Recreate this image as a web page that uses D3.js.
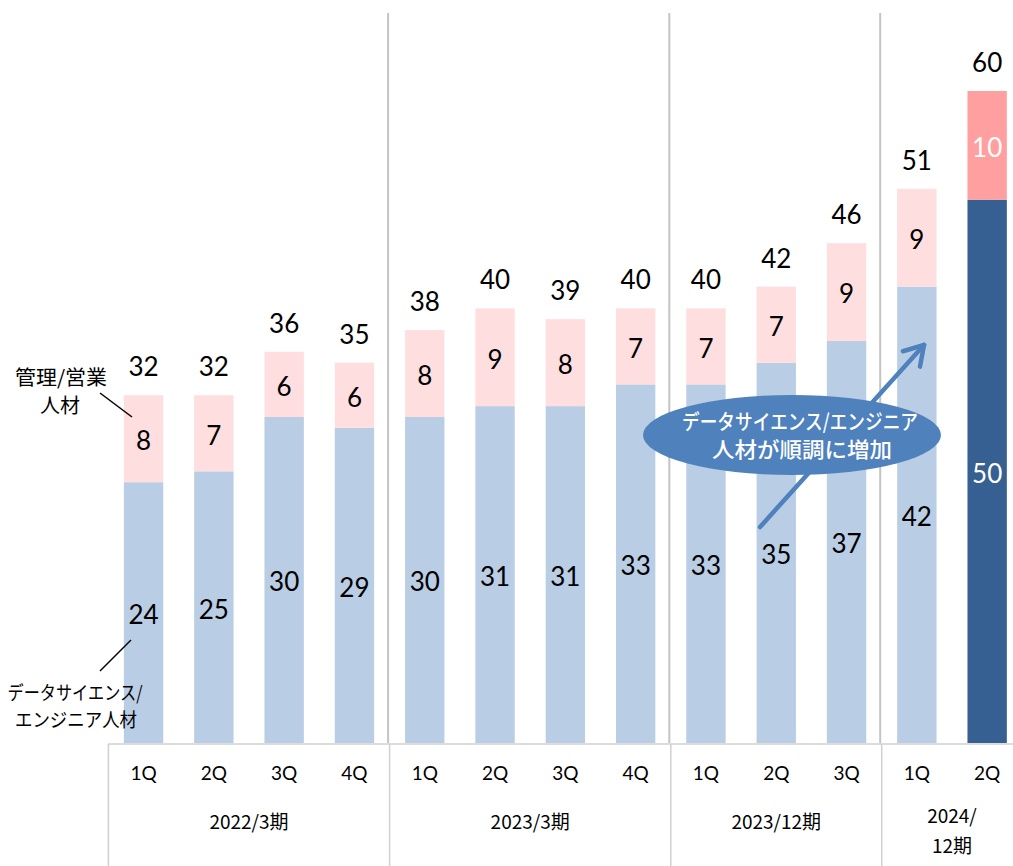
<!DOCTYPE html>
<html>
<head>
<meta charset="utf-8">
<script src="https://cdn.jsdelivr.net/npm/d3@7"></script>
<style>
  body { margin: 0; background: #fff; }
  text { font-family: Lato, "Noto Sans CJK JP", sans-serif; }
  .jp { font-family: "Noto Sans CJK JP", sans-serif; }
</style>
</head>
<body>
<script>
// データ
var quarters = ["1Q", "2Q", "3Q", "4Q", "1Q", "2Q", "3Q", "4Q", "1Q", "2Q", "3Q", "1Q", "2Q"];
var periods = [["2022/3期"], ["2023/3期"], ["2023/12期"], ["2024/", "12期"]];
var periodSizes = [4, 4, 3, 2];
var dsValues = [24, 25, 30, 29, 30, 31, 31, 33, 33, 35, 37, 42, 50];
var mgmtValues = [8, 7, 6, 6, 8, 9, 8, 7, 7, 7, 9, 9, 10];

var W = 1013, H = 866;
var baseY = 743;
var step = 70.3, left = 108.4;

var svg = d3.select("body").append("svg")
    .attr("width", W)
    .attr("height", H);

var data = quarters.map(function(q, i) {
    return { i: i, q: q, ds: dsValues[i], mgmt: mgmtValues[i] };
});

var x = d3.scaleBand()
    .domain(data.map(function(d) { return d.i; }))
    .range([left, left + step * quarters.length])
    .paddingInner(0.44)
    .paddingOuter(0.22);

var y = d3.scaleLinear()
    .domain([0, 60])
    .range([baseY, 91]);

var stack = d3.stack().keys(["ds", "mgmt"]);
var series = stack(data);

var last = quarters.length - 1;
var colors = {
    ds: ["#B9CDE5", "#366092"],
    mgmt: ["#FFDEDF", "#FF9F9F"]
};

// 区切り線 (期ごと)
var bounds = [];
var acc = 0;
periodSizes.forEach(function(n) { bounds.push(acc); acc += n; });
var sepX = bounds.slice(1).map(function(b) {
    return (x(b - 1) + x.bandwidth() + x(b)) / 2;
});

svg.selectAll(".sep")
    .data(sepX)
    .enter().append("line")
    .attr("x1", function(d) { return d - 1.5; })
    .attr("x2", function(d) { return d - 1.5; })
    .attr("y1", 13)
    .attr("y2", baseY)
    .attr("stroke", "#c4c4c4")
    .attr("stroke-width", 2);

// 棒
series.forEach(function(s) {
    svg.selectAll(".bar-" + s.key)
        .data(s)
        .enter().append("rect")
        .attr("x", function(d, i) { return x(i); })
        .attr("width", x.bandwidth())
        .attr("y", function(d) { return y(d[1]); })
        .attr("height", function(d) { return y(d[0]) - y(d[1]); })
        .attr("fill", function(d, i) { return colors[s.key][i === last ? 1 : 0]; });

    svg.selectAll(".lbl-" + s.key)
        .data(s)
        .enter().append("text")
        .attr("x", function(d, i) { return x(i) + x.bandwidth() / 2; })
        .attr("y", function(d) { return (y(d[0]) + y(d[1])) / 2 + 2; })
        .attr("dy", "0.36em")
        .attr("text-anchor", "middle")
        .attr("font-size", 26)
        .attr("fill", function(d, i) { return i === last ? "#fff" : "#000"; })
        .text(function(d) { return d[1] - d[0]; });
});

// 合計
svg.selectAll(".total")
    .data(data)
    .enter().append("text")
    .attr("x", function(d) { return x(d.i) + x.bandwidth() / 2; })
    .attr("y", function(d) { return y(d.ds + d.mgmt) - 19; })
    .attr("text-anchor", "middle")
    .attr("font-size", 26)
    .attr("fill", "#000")
    .text(function(d) { return d.ds + d.mgmt; });

// 下の表
var gridColor = "#d0d0d0";
svg.append("line")
    .attr("x1", left).attr("x2", W)
    .attr("y1", baseY + 1).attr("y2", baseY + 1)
    .attr("stroke", gridColor).attr("stroke-width", 1.5);

[left].concat(sepX).forEach(function(sx) {
    svg.append("line")
        .attr("x1", sx).attr("x2", sx)
        .attr("y1", baseY + 1).attr("y2", H)
        .attr("stroke", gridColor).attr("stroke-width", 1.5);
});

svg.selectAll(".qlabel")
    .data(data)
    .enter().append("text")
    .attr("x", function(d) { return x(d.i) + x.bandwidth() / 2; })
    .attr("y", 780)
    .attr("text-anchor", "middle")
    .attr("font-size", 19)
    .text(function(d) { return d.q; });

var edges = [left].concat(sepX).concat([left + step * quarters.length]);
periods.forEach(function(lines, k) {
    var cx = (edges[k] + edges[k + 1]) / 2;
    var y0 = lines.length === 1 ? 829 : 823;
    lines.forEach(function(t, j) {
        svg.append("text")
            .attr("class", "jp")
            .attr("x", cx)
            .attr("y", y0 + j * 30)
            .attr("text-anchor", "middle")
            .attr("font-size", 19)
            .text(t);
    });
});

// 凡例の注記
function note(t, cx, yb, size, len) {
    var el = svg.append("text").attr("class", "jp")
        .attr("x", cx).attr("y", yb)
        .attr("text-anchor", "middle").attr("font-size", size)
        .text(t);
    if (len) el.attr("textLength", len).attr("lengthAdjust", "spacingAndGlyphs");
    return el;
}
note("管理/営業", 61, 385, 20, 92);
note("人材", 60, 413, 20);
svg.append("line")
    .attr("x1", 100).attr("y1", 393)
    .attr("x2", 132).attr("y2", 417)
    .attr("stroke", "#000").attr("stroke-width", 1.5);

note("データサイエンス/", 75, 700, 19, 135);
note("エンジニア人材", 76, 727, 19, 122);
svg.append("line")
    .attr("x1", 100).attr("y1", 671)
    .attr("x2", 131).attr("y2", 640)
    .attr("stroke", "#000").attr("stroke-width", 1.5);

// 矢印と吹き出し
var accent = "#4F81BD";
var ax1 = 760, ay1 = 527, ax2 = 924, ay2 = 345;
svg.append("line")
    .attr("x1", ax1).attr("y1", ay1)
    .attr("x2", ax2).attr("y2", ay2)
    .attr("stroke", accent).attr("stroke-width", 4.5)
    .attr("stroke-linecap", "round");
var ang = Math.atan2(ay2 - ay1, ax2 - ax1);
[-1, 1].forEach(function(s) {
    var a = ang + Math.PI + s * 0.55;
    svg.append("line")
        .attr("x1", ax2).attr("y1", ay2)
        .attr("x2", ax2 + 22 * Math.cos(a)).attr("y2", ay2 + 22 * Math.sin(a))
        .attr("stroke", accent).attr("stroke-width", 4.5)
        .attr("stroke-linecap", "round");
});

svg.append("ellipse")
    .attr("cx", 792).attr("cy", 435)
    .attr("rx", 149).attr("ry", 40)
    .attr("fill", accent);
note("データサイエンス/エンジニア", 800, 429, 21, 236)
    .attr("font-weight", 500).attr("fill", "#fff");
note("人材が順調に増加", 802, 457, 21, 180)
    .attr("font-weight", 500).attr("fill", "#fff");
</script>
</body>
</html>
